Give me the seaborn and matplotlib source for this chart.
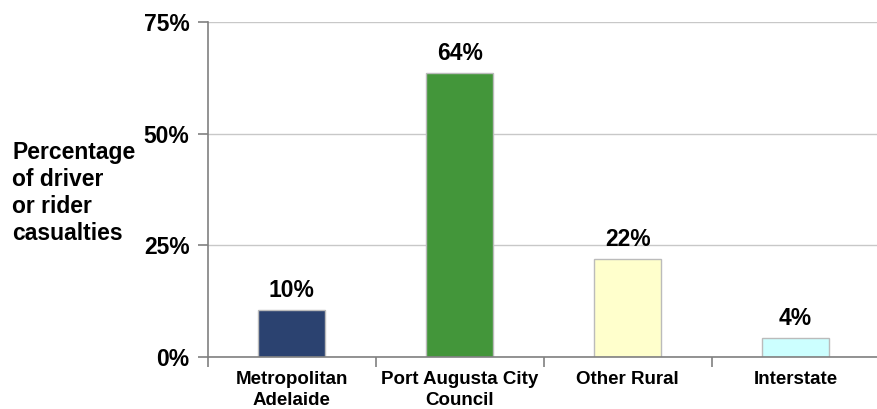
import matplotlib
matplotlib.use("Agg")
import matplotlib.pyplot as plt
import seaborn as sns
import pandas as pd
from matplotlib.ticker import FixedLocator, FuncFormatter

categories = ["Metropolitan\nAdelaide", "Port Augusta City\nCouncil", "Other Rural", "Interstate"]
values = [10.5, 63.6, 21.9, 4.25]
value_labels = ["10%", "64%", "22%", "4%"]
colors = ["#2B4270", "#43963A", "#FFFFCC", "#CCFFFF"]
y_ticks = [0, 25, 50, 75]

sns.set_theme(style="white")
plt.rcParams['font.family'] = ['Liberation Sans', 'DejaVu Sans']
plt.rcParams['text.color'] = 'black'
plt.rcParams['xtick.color'] = 'black'
plt.rcParams['ytick.color'] = 'black'

df = pd.DataFrame({"cat": categories, "val": values})

fig = plt.figure(figsize=(8.77, 4.09), dpi=100)
ax = fig.add_axes([207.6 / 877, 1 - 357 / 409, 672 / 877, 335 / 409])

sns.barplot(data=df, x="cat", y="val", hue="cat", palette=colors, legend=False, saturation=1,
            width=0.4, edgecolor="#BBBBBB", linewidth=1.0, ax=ax, zorder=3)

ax.set_xlim(-0.5, 3.5)
ax.set_ylim(0, 75)
ax.set_yticks(y_ticks)
ax.yaxis.set_major_formatter(FuncFormatter(lambda v, p: f"{int(v)}%"))
ax.grid(axis="y", color="#C8C8C8", linewidth=1.0, zorder=0)
ax.grid(axis="x", visible=False)

for s in ["top", "right"]:
    ax.spines[s].set_visible(False)
for s in ["left", "bottom"]:
    ax.spines[s].set_color("#808080")
    ax.spines[s].set_linewidth(1.2)
    ax.spines[s].set_zorder(4)

ax.tick_params(axis="y", which="major", direction="out", length=7, width=1.2, color="#808080",
               labelcolor="black", labelsize=16.5, pad=6, left=True)
for t in ax.get_yticklabels():
    t.set_fontweight("bold")

ax.tick_params(axis="x", which="major", length=0, labelcolor="black", labelsize=13.5, pad=10)
for t in ax.get_xticklabels():
    t.set_fontweight("bold")
    t.set_linespacing(1.28)
ax.xaxis.set_minor_locator(FixedLocator([-0.5, 0.5, 1.5, 2.5, 3.5]))
ax.tick_params(axis="x", which="minor", direction="out", length=7, width=1.2, color="#808080", bottom=True)

ax.set_xlabel("")
ax.set_ylabel("")

bars = [p for p in ax.patches]
for bar, lab in zip(bars, value_labels):
    ax.annotate(lab, (bar.get_x() + bar.get_width() / 2, bar.get_height()),
                xytext=(0, 6), textcoords="offset points", ha="center", va="bottom",
                fontsize=16.5, fontweight="bold", color="black")

fig.text(12 / 877, 1 - 193 / 409, "Percentage\nof driver\nor rider\ncasualties",
         ha="left", va="center", fontsize=16.5, fontweight="bold", linespacing=1.22, color="black")

fig.savefig("out.png", dpi=100)
